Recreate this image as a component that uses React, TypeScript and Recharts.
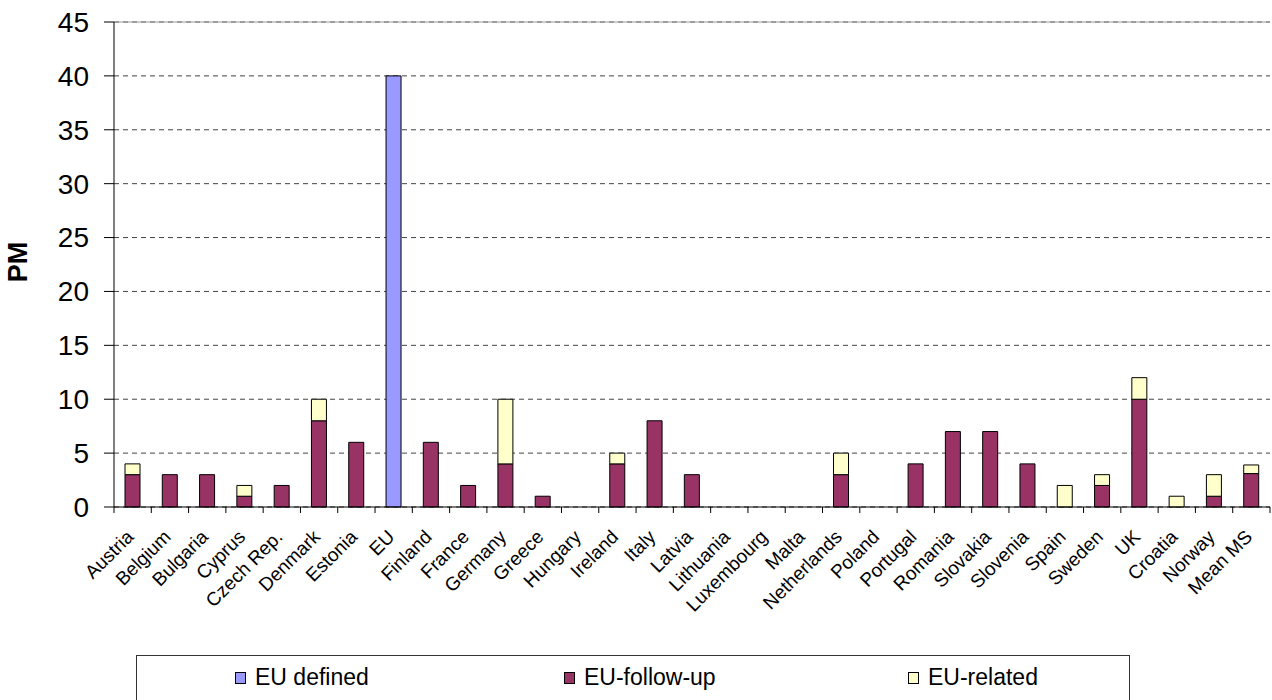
import { BarChart, Bar, XAxis, YAxis, CartesianGrid, ReferenceLine } from "recharts"

const categories = [
  "Austria", "Belgium", "Bulgaria", "Cyprus", "Czech Rep.", "Denmark", "Estonia", "EU",
  "Finland", "France", "Germany", "Greece", "Hungary", "Ireland", "Italy", "Latvia",
  "Lithuania", "Luxembourg", "Malta", "Netherlands", "Poland", "Portugal", "Romania",
  "Slovakia", "Slovenia", "Spain", "Sweden", "UK", "Croatia", "Norway", "Mean MS",
]
const euDefined = [0, 0, 0, 0, 0, 0, 0, 40, 0, 0, 0, 0, 0, 0, 0, 0, 0, 0, 0, 0, 0, 0, 0, 0, 0, 0, 0, 0, 0, 0, 0]
const euFollowUp = [3, 3, 3, 1, 2, 8, 6, 0, 6, 2, 4, 1, 0, 4, 8, 3, 0, 0, 0, 3, 0, 4, 7, 7, 4, 0, 2, 10, 0, 1, 3.1]
const euRelated = [1, 0, 0, 1, 0, 2, 0, 0, 0, 0, 6, 0, 0, 1, 0, 0, 0, 0, 0, 2, 0, 0, 0, 0, 0, 2, 1, 2, 1, 2, 0.8]
const yTicks = [0, 5, 10, 15, 20, 25, 30, 35, 40, 45]

const series = [
  { key: "defined", name: "EU defined", color: "#9999FF" },
  { key: "followUp", name: "EU-follow-up", color: "#993366" },
  { key: "related", name: "EU-related", color: "#FFFFCC" },
]

const data = categories.map((name, i) => ({
  name,
  defined: euDefined[i],
  followUp: euFollowUp[i],
  related: euRelated[i],
}))

const W = 1272
const H = 700
const Y_AXIS_W = 114
const RIGHT = 2
const STEP = (W - Y_AXIS_W - RIGHT) / categories.length
const FONT = "'Liberation Sans', Arial, sans-serif"

// tick marks sit between categories, labels at 45 degrees
function CountryTick(props: any) {
  const { x, y, payload, index } = props
  const left = x - STEP / 2
  const tx = x + 2
  const ty = y + 31
  return (
    <g>
      <line x1={left} x2={left} y1={y} y2={y + 6} stroke="#000" />
      {index === categories.length - 1 && (
        <line x1={x + STEP / 2} x2={x + STEP / 2} y1={y} y2={y + 6} stroke="#000" />
      )}
      <text
        x={tx}
        y={ty}
        transform={`rotate(-45, ${tx}, ${ty})`}
        textAnchor="end"
        fontSize={19}
        fontFamily={FONT}
        fill="#000"
      >
        {payload.value}
      </text>
    </g>
  )
}

export default function App() {
  return (
    <div style={{ position: "absolute", left: 0, top: 0, width: W, height: H, background: "#fff", overflow: "hidden" }}>
      <BarChart
        width={W}
        height={H}
        data={data}
        margin={{ top: 22, right: RIGHT, bottom: 0, left: 0 }}
        barSize={15}
      >
        <CartesianGrid vertical={false} stroke="#444" strokeDasharray="5 4" />
        <XAxis
          dataKey="name"
          interval={0}
          height={193}
          tickLine={false}
          tickSize={0}
          tickMargin={0}
          axisLine={{ stroke: "#000" }}
          tick={<CountryTick />}
        />
        <YAxis
          width={Y_AXIS_W}
          domain={[0, 45]}
          ticks={yTicks}
          interval={0}
          tickSize={10}
          tickMargin={15}
          tickLine={{ stroke: "#000" }}
          axisLine={{ stroke: "#000" }}
          tick={{ fontSize: 28, fill: "#000", fontFamily: FONT }}
          label={{
            content: () => (
              <text
                x={18}
                y={262}
                transform="rotate(-90, 18, 262)"
                textAnchor="middle"
                dominantBaseline="central"
                fontSize={27}
                fontWeight="bold"
                fontFamily={FONT}
                fill="#000"
              >
                PM
              </text>
            ),
          }}
        />
        <YAxis yAxisId="frame" orientation="right" width={0} tick={false} tickLine={false} axisLine={{ stroke: "#999" }} domain={[0, 45]} />
        <ReferenceLine y={45} stroke="#999" />
        {series.map((s) => (
          <Bar
            key={s.key}
            dataKey={s.key}
            name={s.name}
            stackId="a"
            fill={s.color}
            stroke="#000"
            strokeWidth={1}
            isAnimationActive={false}
          />
        ))}
      </BarChart>
      <div
        style={{
          position: "absolute",
          left: 136,
          top: 655,
          width: 994,
          height: 60,
          border: "1px solid #333",
          boxSizing: "border-box",
          fontFamily: FONT,
          fontSize: 23,
        }}
      >
        {series.map((s, i) => (
          <div
            key={s.key}
            style={{ position: "absolute", left: [98, 427, 771][i], top: 8, display: "flex", alignItems: "center" }}
          >
            <span style={{ display: "inline-block", width: 9, height: 10, background: s.color, border: "1px solid #000", marginRight: 9 }} />
            <span>{s.name}</span>
          </div>
        ))}
      </div>
    </div>
  )
}
